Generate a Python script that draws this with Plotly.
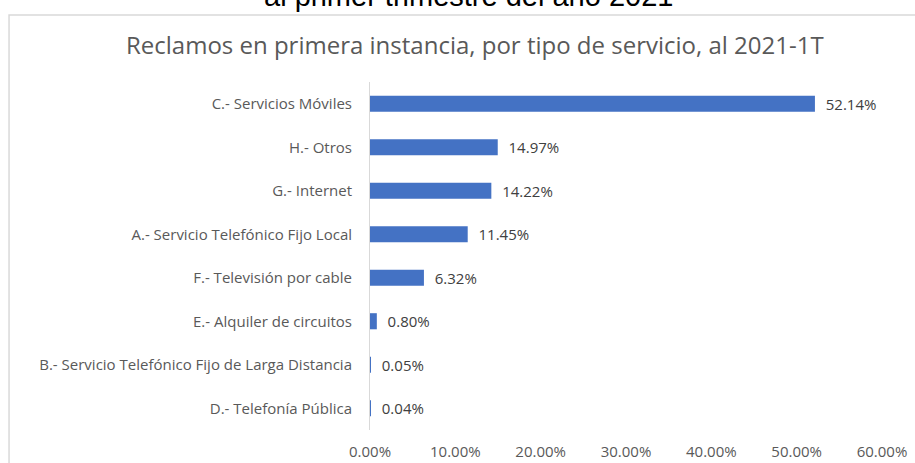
import plotly.graph_objects as go

categories = [
    "C.- Servicios Móviles",
    "H.- Otros",
    "G.- Internet",
    "A.- Servicio Telefónico Fijo Local",
    "F.- Televisión por cable",
    "E.- Alquiler de circuitos",
    "B.- Servicio Telefónico Fijo de Larga Distancia",
    "D.- Telefonía Pública",
]
shares = [0.5214, 0.1497, 0.1422, 0.1145, 0.0632, 0.0080, 0.0005, 0.0004]
tick_vals = [0, 0.1, 0.2, 0.3, 0.4, 0.5, 0.6]
tick_text = ["0.00%", "10.00%", "20.00%", "30.00%", "40.00%", "50.00%", "60.00%"]

chart_title = "Reclamos en primera instancia, por tipo de servicio, al 2021-1T"
outer_title = "al primer trimestre del año 2021"

fig = go.Figure()
fig.add_trace(go.Bar(
    y=categories,
    x=shares,
    orientation="h",
    marker=dict(color="#4472C4", line=dict(width=0)),
    text=["\u00a0\u00a0" + f"{v*100:.2f}%" for v in shares],
    textposition="outside",
    constraintext="none",
    textfont=dict(family="Open Sans", size=15, color="#404040"),
    cliponaxis=False,
    hoverinfo="skip",
))

fig.update_layout(
    width=915, height=463,
    margin=dict(l=370, r=33, t=82, b=33, autoexpand=False),
    paper_bgcolor="white", plot_bgcolor="white",
    bargap=0.63,
    showlegend=False,
    xaxis=dict(
        range=[0, 0.6], tickvals=tick_vals, ticktext=tick_text,
        showgrid=False, zeroline=False, showline=False, automargin=False,
        ticks="outside", ticklen=8, tickcolor="rgba(0,0,0,0)",
        tickfont=dict(family="Open Sans", size=15, color="#595959"),
    ),
    yaxis=dict(
        categoryorder="array", categoryarray=categories[::-1],
        showgrid=False, zeroline=False, automargin=False,
        showline=True, linecolor="#D9D9D9", linewidth=1,
        ticks="outside", ticklen=14, tickcolor="rgba(0,0,0,0)",
        tickfont=dict(family="Open Sans", size=15, color="#595959"),
    ),
    shapes=[dict(
        type="rect", xref="paper", yref="paper",
        x0=-0.705, x1=1.2, y0=-0.2, y1=1.1925,
        line=dict(color="#D9D9D9", width=1.5), fillcolor="rgba(0,0,0,0)",
        layer="below",
    )],
    annotations=[
        dict(text=chart_title, xref="paper", yref="paper", x=0.205, y=1.108,
             xanchor="center", yanchor="middle", showarrow=False,
             font=dict(family="Open Sans", size=24, color="#595959")),
        dict(text=outer_title, xref="paper", yref="paper", x=0.193, y=1.248,
             xanchor="center", yanchor="middle", showarrow=False,
             font=dict(family="Liberation Sans", size=29, color="#000000")),
    ],
)

fig.write_html(
    "out.html",
    config={"displayModeBar": False},
    post_script="document.body.style.margin='0';document.body.style.overflow='hidden';",
)
